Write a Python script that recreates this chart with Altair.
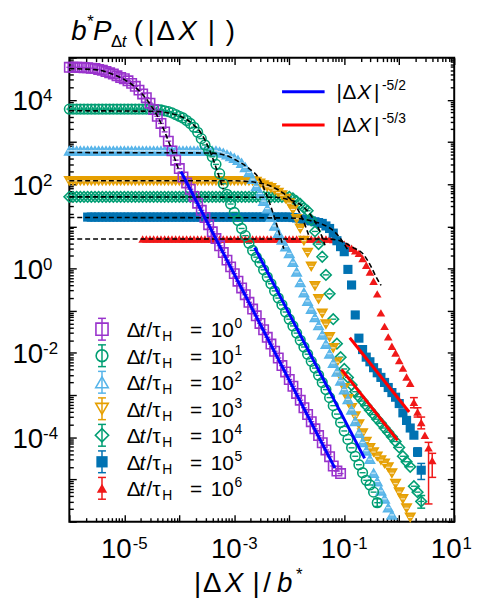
import altair as alt
import pandas as pd

FONT = "Liberation Sans"

# ---------------------------------------------------------------------------
# Data: log10(b* P) in bins of log10(|dX|/b*),
# 15 bins per decade starting at |dX|/b* = 1e-6
# ---------------------------------------------------------------------------
LX0 = -6.0
STEP = 1.0 / 15.0

exponents = ["0", "1", "2", "3", "4", "5", "6"]
colors = ["#9933CC", "#009E73", "#56B4E9", "#E69F00", "#009E73", "#0072B2", "#F01818"]
shapes = ["square", "circle", "triangle-up", "triangle-down", "diamond", "square", "triangle-up"]
filled = [False, False, True, True, False, True, True]
legend_filled = [False, False, False, False, False, True, True]
start_bin = [0, 0, 0, 0, 0, 5, 20]

ly_dt0 = [4.77, 4.77, 4.77, 4.77, 4.76, 4.76, 4.75, 4.74, 4.72, 4.70,
          4.67, 4.64, 4.61, 4.57, 4.53, 4.50, 4.45, 4.39, 4.32, 4.23,
          4.14, 4.05, 3.92, 3.77, 3.61, 3.44, 3.24, 3.02, 2.79, 2.57,
          2.37, 2.17, 2.03, 1.88, 1.71, 1.55, 1.38, 1.21, 1.04, 0.87,
          0.71, 0.54, 0.38, 0.20, 0.04, -0.12, -0.30, -0.46, -0.62, -0.80,
          -0.96, -1.12, -1.30, -1.45, -1.63, -1.79, -1.96, -2.12, -2.30, -2.45,
          -2.63, -2.79, -2.96, -3.12, -3.30, -3.46, -3.63, -3.80, -3.96, -4.13,
          -4.30, -4.46, -4.68, -4.80, -4.86]
ly_dt1 = [3.78] * 23 + [3.78, 3.77, 3.76, 3.74, 3.72, 3.69, 3.65, 3.61, 3.57, 3.51,
                        3.44, 3.35, 3.23, 3.08, 2.93, 2.79, 2.65, 2.47, 2.25, 2.01,
                        1.76, 1.53, 1.33, 1.14, 0.95, 0.78, 0.60, 0.43, 0.27,
                        0.14, -0.03, -0.20, -0.36, -0.53, -0.70, -0.86, -1.03, -1.20, -1.36,
                        -1.53, -1.70, -1.86, -2.03, -2.20, -2.36, -2.53, -2.70, -2.87, -3.06,
                        -3.25, -3.45, -3.65, -3.85, -4.05, -4.25, -4.45, -4.65, -4.84, -5.02,
                        -5.13, -5.30, -5.55]
ly_dt2 = [2.79] * 41 + [2.77, 2.74, 2.70, 2.66, 2.62, 2.57, 2.50, 2.40, 2.28, 2.12,
                        1.95, 1.78, 1.60, 1.42, 1.22, 1.01, 0.84, 0.68, 0.52, 0.36,
                        0.15, -0.08, -0.33, -0.57, -0.77, -0.96, -1.16, -1.35, -1.57, -1.79,
                        -2.02, -2.24, -2.45, -2.66, -2.87, -3.10, -3.35, -3.62, -3.90, -4.12,
                        -4.32, -4.52, -4.85, -5.05, -5.27, -5.46, -5.67, -5.84]
ly_dt3 = [2.08] * 51 + [2.06, 2.02, 1.98, 1.94, 1.91, 1.86, 1.80, 1.74, 1.66, 1.55,
                        1.40, 1.18, 0.95, 0.66, 0.38, 0.05, -0.41, -0.72, -1.06, -1.32,
                        -1.62, -1.88, -2.22, -2.56, -2.83, -3.09, -3.30, -3.50, -3.69, -3.90,
                        -4.10, -4.25, -4.35, -4.45, -4.54, -4.62, -4.71, -4.85, -5.10, -5.30,
                        -5.46, -5.68, -5.90]
ly_dt4 = [1.70] * 61 + [1.66, 1.60, 1.53, 1.44, 1.37, 1.15, 0.88, 0.58, 0.28, -0.15,
                        -0.60, -1.20, -1.78, -2.10, -2.38, -2.58, -2.76, -2.92, -3.04, -3.14,
                        -3.25, -3.36, -3.46, -3.57, -3.67, -3.78, -3.88, -3.99, -4.10, -4.24,
                        -4.45, -4.58, -4.70, -5.16, -5.30, -5.52]
ly_dt5 = [1.22] * 56 + [1.21, 1.20, 1.18, 1.16, 1.15, 1.13, 1.11, 1.09, 1.07, 1.01,
                        0.95, 0.84, 0.66, 0.52, 0.40, -0.02, -0.39, -1.10, -1.65, -1.92,
                        -2.10, -2.21, -2.35, -2.47, -2.58, -2.70, -2.82, -2.94, -3.05, -3.20,
                        -3.42, -3.60, -3.78, -3.95, -4.35, -4.78]
ly_dt6 = [0.70] * 52 + [0.69, 0.67, 0.64, 0.58, 0.53, 0.48, 0.42, 0.36, 0.24, 0.08,
                        -0.08, -0.30, -0.60, -1.05, -1.37, -1.62, -1.84, -2.00, -2.18, -2.36,
                        -2.57, -2.72, -3.17, -3.40, -3.65, -3.95, -4.25, -4.55]
series_ly = [ly_dt0, ly_dt1, ly_dt2, ly_dt3, ly_dt4, ly_dt5, ly_dt6]

# visible error bars (series, bin, log10 low, log10 high)
err_series = [6, 6, 6, 6, 6, 5, 5, 4, 1]
err_bin = [94, 95, 96, 98, 99, 95, 96, 96, 84]
err_lo = [-3.30, -3.52, -3.80, -5.58, -4.95, -4.45, -5.00, -5.68, -5.64]
err_hi = [-3.06, -3.30, -3.52, -4.12, -4.38, -4.25, -4.62, -5.38, -5.46]

# dashed fit curves (log10 x, log10 y)
fit_lx = [[-6, -5.5, -5.2, -5.0, -4.8, -4.6, -4.4, -4.3, -4.2, -4.1, -4.0],
          [-6, -4.5, -4.0, -3.8, -3.6, -3.48, -3.36, -3.27, -3.2],
          [-6, -3.5, -3.2, -2.94, -2.76, -2.52, -2.37, -2.25, -2.16, -2.10],
          [-6, -3.0, -2.6, -2.3, -2.1, -1.9, -1.75, -1.65],
          [-6, -2.3, -2.0, -1.8, -1.6, -1.45, -1.35],
          [-6, -2.0, -1.6, -1.4, -1.2, -1.05, -0.93],
          [-6, -1.3, -1.08, -0.84, -0.66, -0.51, -0.42, -0.33]]
fit_ly = [[4.74, 4.71, 4.60, 4.48, 4.30, 4.02, 3.62, 3.35, 3.03, 2.67, 2.30],
          [3.74, 3.73, 3.62, 3.47, 3.20, 2.90, 2.50, 2.15, 1.88],
          [2.75, 2.74, 2.70, 2.55, 2.40, 2.07, 1.60, 1.13, 0.74, 0.47],
          [2.08, 2.08, 2.04, 1.93, 1.78, 1.52, 1.15, 0.80],
          [1.70, 1.69, 1.63, 1.52, 1.25, 0.90, 0.55],
          [1.21, 1.20, 1.13, 1.05, 0.90, 0.68, 0.43],
          [0.70, 0.70, 0.66, 0.50, 0.35, 0.04, -0.20, -0.40]]

# power-law guide lines: (lx0, ly0, lx1, ly1)
guide_color = ["#0000FF", "#0000FF", "#FF0000", "#FF0000"]
guide_lx0 = [-3.97, -2.63, -1.05, -0.90]
guide_ly0 = [2.30, 0.50, -2.39, -1.64]
guide_lx1 = [-1.17, -0.63, -0.03, 0.18]
guide_ly1 = [-4.73, -4.50, -4.07, -3.40]

# ---------------------------------------------------------------------------
XS = alt.Scale(type="log", domain=[1e-6, 10], nice=False)
YS = alt.Scale(type="log", domain=[1e-6, 1e5], nice=False)
OX, OY = 70, 55  # page position of plot origin (layout only)

sizes = [90, 95, 95, 95, 115, 85, 75]
widths = [1.6, 1.6, 1.4, 1.4, 1.6, 0, 0]
CAP = "M-1,0H1"

layers = []
for k in reversed(range(7)):
    ly = series_ly[k]
    df = pd.DataFrame({
        "x": [10 ** (LX0 + (start_bin[k] + j) * STEP) for j in range(len(ly))],
        "y": [10 ** v for v in ly]})
    enc = dict(x=alt.X("x:Q", scale=XS, axis=None), y=alt.Y("y:Q", scale=YS, axis=None))
    if filled[k] and widths[k] > 0:
        m = alt.Chart(df).mark_point(shape=shapes[k], filled=True, size=sizes[k],
                                     fill=colors[k], stroke=colors[k], strokeWidth=widths[k],
                                     fillOpacity=0.9, opacity=1).encode(**enc)
    elif filled[k]:
        m = alt.Chart(df).mark_point(shape=shapes[k], filled=True, size=sizes[k],
                                     color=colors[k], opacity=1).encode(**enc)
    else:
        m = alt.Chart(df).mark_point(shape=shapes[k], filled=False, size=sizes[k],
                                     color=colors[k], strokeWidth=widths[k], opacity=1).encode(**enc)
    layers.append(m)
    if k in (0, 1, 4):
        layers.append(alt.Chart(df).mark_point(shape=CAP, filled=False, size=36, color=colors[k],
                                               strokeWidth=1.4, opacity=1).encode(**enc))
    if k in (2, 3):
        layers.append(alt.Chart(df).mark_point(shape=CAP, filled=False, size=20, color="white",
                                               strokeWidth=1, opacity=0.8).encode(**enc))

# error bars
edf = pd.DataFrame({
    "x": [10 ** (LX0 + b * STEP) for b in err_bin],
    "lo": [10 ** v for v in err_lo],
    "hi": [10 ** v for v in err_hi],
    "c": [colors[s] for s in err_series]})
layers.append(alt.Chart(edf).mark_rule(strokeWidth=1.5).encode(
    x=alt.X("x:Q", scale=XS, axis=None), y=alt.Y("lo:Q", scale=YS, axis=None), y2="hi:Q",
    color=alt.Color("c:N", scale=None, legend=None)))
ecaps = pd.concat([edf.assign(y=edf["lo"]), edf.assign(y=edf["hi"])])
layers.append(alt.Chart(ecaps).mark_point(shape=CAP, filled=False, size=64, strokeWidth=1.5, opacity=1).encode(
    x=alt.X("x:Q", scale=XS, axis=None), y=alt.Y("y:Q", scale=YS, axis=None),
    color=alt.Color("c:N", scale=None, legend=None)))

# dashed fits
rows = []
for f, (lxs, lys) in enumerate(zip(fit_lx, fit_ly)):
    for a, b in zip(lxs, lys):
        rows.append({"f": f, "x": 10 ** a, "y": 10 ** b})
layers.append(alt.Chart(pd.DataFrame(rows)).mark_line(
    color="black", strokeDash=[5, 3], strokeWidth=1.6, interpolate="monotone").encode(
    x=alt.X("x:Q", scale=XS, axis=None), y=alt.Y("y:Q", scale=YS, axis=None), detail="f:N"))

# power-law guides
rows = []
for g in range(4):
    rows.append({"g": g, "x": 10 ** guide_lx0[g], "y": 10 ** guide_ly0[g], "c": guide_color[g]})
    rows.append({"g": g, "x": 10 ** guide_lx1[g], "y": 10 ** guide_ly1[g], "c": guide_color[g]})
layers.append(alt.Chart(pd.DataFrame(rows)).mark_line(strokeWidth=3).encode(
    x=alt.X("x:Q", scale=XS, axis=None), y=alt.Y("y:Q", scale=YS, axis=None),
    detail="g:N", color=alt.Color("c:N", scale=None, legend=None)))

# ---------------------------------------------------------------------------
# legends (pixel layout)
PX = dict(scale=None, axis=None)
row_y = [329.5 + 26.8 * k for k in range(7)]
leg_sizes = [150, 140, 160, 160, 180, 130, 110]
for k in range(7):
    d = pd.DataFrame({"x": [103 - OX], "y": [row_y[k] - OY]})
    enc = dict(x=alt.X("x:Q", **PX), y=alt.Y("y:Q", **PX))
    if legend_filled[k]:
        layers.append(alt.Chart(d).mark_point(shape=shapes[k], filled=True, size=leg_sizes[k],
                                              color=colors[k], opacity=1).encode(**enc))
    else:
        layers.append(alt.Chart(d).mark_point(shape=shapes[k], filled=False, size=leg_sizes[k],
                                              color=colors[k], strokeWidth=1.6, opacity=1).encode(**enc))
lb = pd.DataFrame({"x": [103 - OX] * 7, "y1": [y - 11 - OY for y in row_y],
                   "y2": [y + 11 - OY for y in row_y], "c": colors})
layers.append(alt.Chart(lb).mark_rule(strokeWidth=1.5).encode(
    x=alt.X("x:Q", **PX), y=alt.Y("y1:Q", **PX), y2="y2:Q",
    color=alt.Color("c:N", scale=None, legend=None)))
lc = pd.concat([lb.assign(y=lb["y1"]), lb.assign(y=lb["y2"])])
layers.append(alt.Chart(lc).mark_point(shape=CAP, filled=False, size=64, strokeWidth=1.5, opacity=1).encode(
    x=alt.X("x:Q", **PX), y=alt.Y("y:Q", **PX), color=alt.Color("c:N", scale=None, legend=None)))

gl = pd.DataFrame({"x1": [285 - OX] * 2, "x2": [328 - OX] * 2, "y": [89.5 - OY, 123 - OY],
                   "c": ["#0000FF", "#FF0000"]})
layers.append(alt.Chart(gl).mark_rule(strokeWidth=3).encode(
    x=alt.X("x1:Q", **PX), x2="x2:Q", y=alt.Y("y:Q", **PX),
    color=alt.Color("c:N", scale=None, legend=None)))

# text pieces: (text, page x, page baseline y, font size, italic)
pieces = []
def put(t, x, y, fs, it=False):
    pieces.append({"t": t, "x": x - OX, "y": y - OY, "fs": fs, "it": it})

# y-axis title
put("b", 72, 37, 28, True); put("*", 88, 24, 17); put("P", 94, 37, 28, True)
put("Δ", 112, 44, 17); put("t", 123, 44, 17, True)
put("(", 135, 37, 28); put("|", 149, 37, 28); put("Δ", 158, 37, 28)
put("X", 180, 37, 28, True); put("|", 210, 37, 28); put(")", 228, 37, 28)
# x-axis title
put("|", 196, 595, 28); put("Δ", 205, 595, 28); put("X", 227, 595, 28, True)
put("|", 255, 595, 28); put("/", 266, 595, 28); put("b", 280, 595, 28, True)
put("*", 299, 583, 17)
# series legend
for k in range(7):
    yb = row_y[k] + 8
    put("Δ", 128, yb, 21); put("t", 141, yb, 21, True); put("/", 148, yb, 21)
    put("τ", 154, yb, 21); put("H", 164, yb + 4, 14); put("=", 192, yb, 21)
    put("10", 213, yb, 21); put(exponents[k], 237, yb - 9, 14)
# guide legend
for yl, sup in ((89.5, "-5/2"), (123, "-5/3")):
    yb = yl + 7
    put("|", 340, yb, 21); put("Δ", 346, yb, 21); put("X", 361, yb, 21, True)
    put("|", 378, yb, 21); put(sup, 386, yl - 2, 14)

tdf = pd.DataFrame(pieces)
for it in (False, True):
    layers.append(alt.Chart(tdf[tdf["it"] == it]).mark_text(
        align="left", baseline="alphabetic", font=FONT, color="black",
        fontStyle="italic" if it else "normal").encode(
        x=alt.X("x:Q", **PX), y=alt.Y("y:Q", **PX), text="t:N",
        size=alt.Size("fs:Q", scale=None, legend=None)))

# ---------------------------------------------------------------------------
# axes: inward major/minor ticks on all sides + superscripted labels
dec_x = [10.0 ** k for k in range(-6, 2)]
min_x = [m * 10.0 ** k for k in range(-6, 1) for m in range(2, 10)]
dec_y = [10.0 ** k for k in range(-6, 6)]
min_y = [m * 10.0 ** k for k in range(-6, 5) for m in range(2, 10)]
lab_x = [1e-5, 1e-3, 1e-1, 1e1]
lab_y = [1e-4, 1e-2, 1.0, 1e2, 1e4]


def tick_axis(orient, values, size):
    return alt.Axis(orient=orient, values=values, labels=False, domain=False, grid=False,
                    ticks=True, tickSize=size, tickWidth=1.4, tickColor="black",
                    offset=-size, title=None)


def lab_axis(orient, values, expr, fs, align, offset, padding):
    return alt.Axis(orient=orient, values=values, labelExpr=expr, labels=True, ticks=False,
                    tickSize=0, domain=False, grid=False, labelFont=FONT, labelFontSize=fs,
                    labelColor="black", labelAlign=align, labelBaseline="alphabetic",
                    labelOffset=offset, labelPadding=padding, labelOverlap=False,
                    labelFlush=False, title=None)


EXP = "'' + round(log(datum.value) / LN10)"
axis_pairs = [
    (tick_axis("bottom", dec_x, 7), tick_axis("left", dec_y, 7)),
    (tick_axis("bottom", min_x, 4), tick_axis("left", min_y, 4)),
    (tick_axis("top", dec_x, 7), tick_axis("right", dec_y, 7)),
    (tick_axis("top", min_x, 4), tick_axis("right", min_y, 4)),
    (lab_axis("bottom", lab_x, "'10'", 28, "right", 7, 36),
     lab_axis("left", lab_y, "'10'", 28, "left", 10, 58)),
    (lab_axis("bottom", lab_x, EXP, 17, "left", 8, 27),
     lab_axis("left", lab_y, EXP, 17, "left", 1, 27)),
]
dummy = pd.DataFrame({"x": [1e-3], "y": [1.0]})
for ax, ay in axis_pairs:
    layers.append(alt.Chart(dummy).mark_point(opacity=0).encode(
        x=alt.X("x:Q", scale=XS, axis=ax), y=alt.Y("y:Q", scale=YS, axis=ay)))

chart = alt.layer(*layers).resolve_axis(x="independent", y="independent").properties(
    width=389, height=469,
    autosize=alt.AutoSizeParams(type="none"),
    padding={"left": 62, "top": 47, "right": 20, "bottom": 75},
).configure_view(stroke="black", strokeWidth=2)

chart.save("out.html", embed_options={"renderer": "svg", "actions": False})
